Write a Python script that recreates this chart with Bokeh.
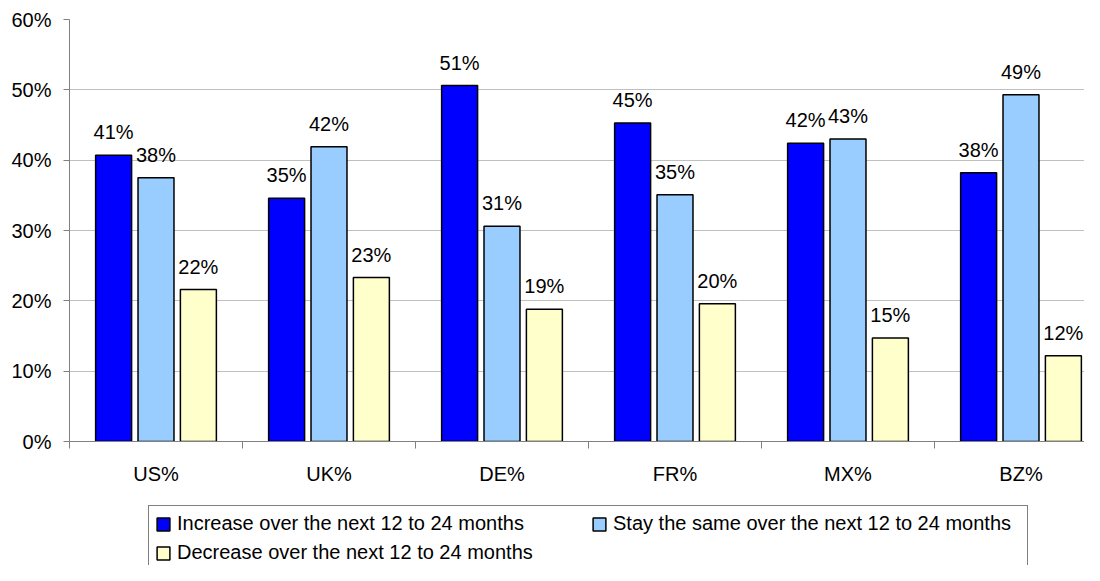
import numpy as np
from bokeh.plotting import figure
from bokeh.layouts import column
from bokeh.models import (ColumnDataSource, FixedTicker, PrintfTickFormatter,
                          Legend, LegendItem, Range1d)
from bokeh.core.properties import value
from bokeh.embed import file_html
from bokeh.resources import INLINE

categories = ["US%", "UK%", "DE%", "FR%", "MX%", "BZ%"]
series_names = ["Increase over the next 12 to 24 months",
                "Stay the same over the next 12 to 24 months",
                "Decrease over the next 12 to 24 months"]
increase = [40.7, 34.6, 50.6, 45.3, 42.4, 38.2]
stay_same = [37.5, 41.9, 30.6, 35.1, 43.0, 49.3]
decrease = [21.6, 23.3, 18.8, 19.6, 14.7, 12.2]
y_ticks = [0, 10, 20, 30, 40, 50, 60]

colors = ["#0000FF", "#99CCFF", "#FFFFCC"]
FONT = "Liberation Sans"

W = 1084
H1, H2 = 492, 73
LEFT, TOP, BOTTOM = 69, 19, 441
CAT = 173.0

p = figure(width=W, height=H1, output_backend="svg", toolbar_location=None,
           x_range=Range1d(0, (W - LEFT) / CAT), y_range=Range1d(0, 60),
           min_border_left=LEFT, min_border_right=0, min_border_top=TOP,
           min_border_bottom=H1 - BOTTOM)
p.outline_line_color = None
p.xgrid.grid_line_color = None
p.ygrid.grid_line_color = "#c0c0c0"
p.ygrid.grid_line_width = 1

n = len(categories)
centers = [i + 0.5 for i in range(n)]
offsets = [-0.245, 0.0, 0.245]
series = [increase, stay_same, decrease]
for vals, off, col in zip(series, offsets, colors):
    src = ColumnDataSource(dict(x=[c + off for c in centers], top=vals,
                                lab=[f"{round(v):d}%" for v in vals]))
    p.vbar(x="x", top="top", width=0.208, source=src, fill_color=col,
           line_color="black", line_width=1.5)
    p.text(x="x", y="top", text="lab", source=src, text_align="center",
           text_baseline="alphabetic", y_offset=-23,
           text_font=value(FONT), text_font_size="20px", text_color="black")

# y axis
p.yaxis.ticker = FixedTicker(ticks=y_ticks)
p.yaxis.formatter = PrintfTickFormatter(format="%d%%")
p.yaxis.major_label_text_font = FONT
p.yaxis.major_label_text_font_size = "20px"
p.yaxis.major_label_text_color = "black"
p.yaxis.axis_line_color = "#808080"
p.yaxis.major_tick_line_color = "#808080"
p.yaxis.major_tick_in = 0
p.yaxis.major_tick_out = 6
p.yaxis.minor_tick_line_color = None
p.yaxis.major_label_standoff = 12

# x axis: labels at centers, separators at boundaries
p.xaxis.ticker = FixedTicker(ticks=centers, minor_ticks=list(range(0, n + 1)))
p.xaxis.major_label_overrides = {c: lab for c, lab in zip(centers, categories)}
p.xaxis.major_label_text_font = FONT
p.xaxis.major_label_text_font_size = "20px"
p.xaxis.major_label_text_color = "black"
p.xaxis.axis_line_color = "#808080"
p.xaxis.major_tick_line_color = None
p.xaxis.major_tick_in = 0
p.xaxis.major_tick_out = 0
p.xaxis.minor_tick_line_color = "#808080"
p.xaxis.minor_tick_in = 0
p.xaxis.minor_tick_out = 7
p.xaxis.major_label_standoff = 14

# legend figure below the chart
q = figure(width=W, height=H2, output_backend="svg", toolbar_location=None,
           x_range=Range1d(0, 1), y_range=Range1d(0, 1),
           x_axis_location=None, y_axis_location=None,
           min_border_left=LEFT, min_border_right=0, min_border_top=0,
           min_border_bottom=0)
q.outline_line_color = None
q.grid.grid_line_color = None
items = []
for nm, col in zip(series_names, colors):
    dummy = ColumnDataSource(dict(x=np.array([0.5]), top=np.array([np.nan])))
    r = q.vbar(x="x", top="top", width=0.1, source=dummy, fill_color=col,
               line_color="black", line_width=1.5)
    items.append(LegendItem(label=nm, renderers=[r]))

LEG_TOP = 507 - H1
LEG_H = 6 + 23 + 6 + 23 + 6
legend = Legend(items=items, orientation="horizontal", ncols=2,
                location=(148 - LEFT, H2 - LEG_TOP - LEG_H), margin=0,
                padding=6, spacing=6,
                glyph_width=16, glyph_height=16, label_standoff=6,
                label_width=408, label_height=23,
                label_text_font=FONT, label_text_font_size="20px",
                label_text_color="black",
                border_line_color="black", border_line_width=1,
                background_fill_color="white", background_fill_alpha=1)
q.add_layout(legend, "center")

layout = column(p, q)
open("out.html", "w").write(file_html(layout, INLINE))
